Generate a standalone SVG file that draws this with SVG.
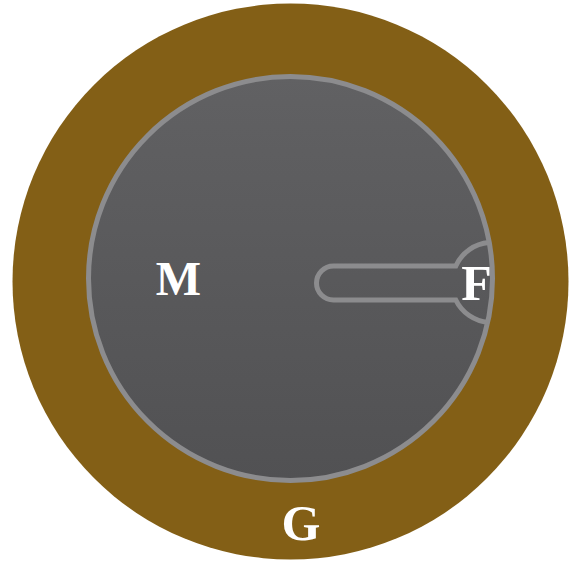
<svg xmlns="http://www.w3.org/2000/svg" width="570" height="562" viewBox="0 0 570 562">
  <defs>
    <linearGradient id="innerFill" x1="0" y1="0" x2="0" y2="1">
      <stop offset="0" stop-color="#616163"/>
      <stop offset="1" stop-color="#515153"/>
    </linearGradient>
  </defs>
  <style>
    .lbl { font-family: "Liberation Serif", "Times New Roman", serif; font-weight: bold; fill: #ffffff; text-anchor: middle; }
    .edge { fill: none; stroke: #8c8c8e; stroke-width: 5; }
  </style>
  <g id="G">
    <circle cx="290.5" cy="281.5" r="278" fill="#835f16"/>
    <text class="lbl" x="301" y="540" font-size="50">G</text>
  </g>
  <g id="M">
    <circle cx="290.5" cy="278.5" r="202" fill="url(#innerFill)" class="edge" style="fill:url(#innerFill)"/>
    <text class="lbl" x="178.5" y="295" font-size="48">M</text>
  </g>
  <g id="connectors">
    <path class="edge" d="M 489 242.6 A 40 40 0 0 0 455.8 266 L 333.5 266 A 17 17 0 0 0 333.5 300 L 455.8 300 A 40 40 0 0 0 488.5 322.4"/>
  </g>
  <g id="F">
    <text class="lbl" x="476.5" y="300" font-size="50">F</text>
  </g>
</svg>
